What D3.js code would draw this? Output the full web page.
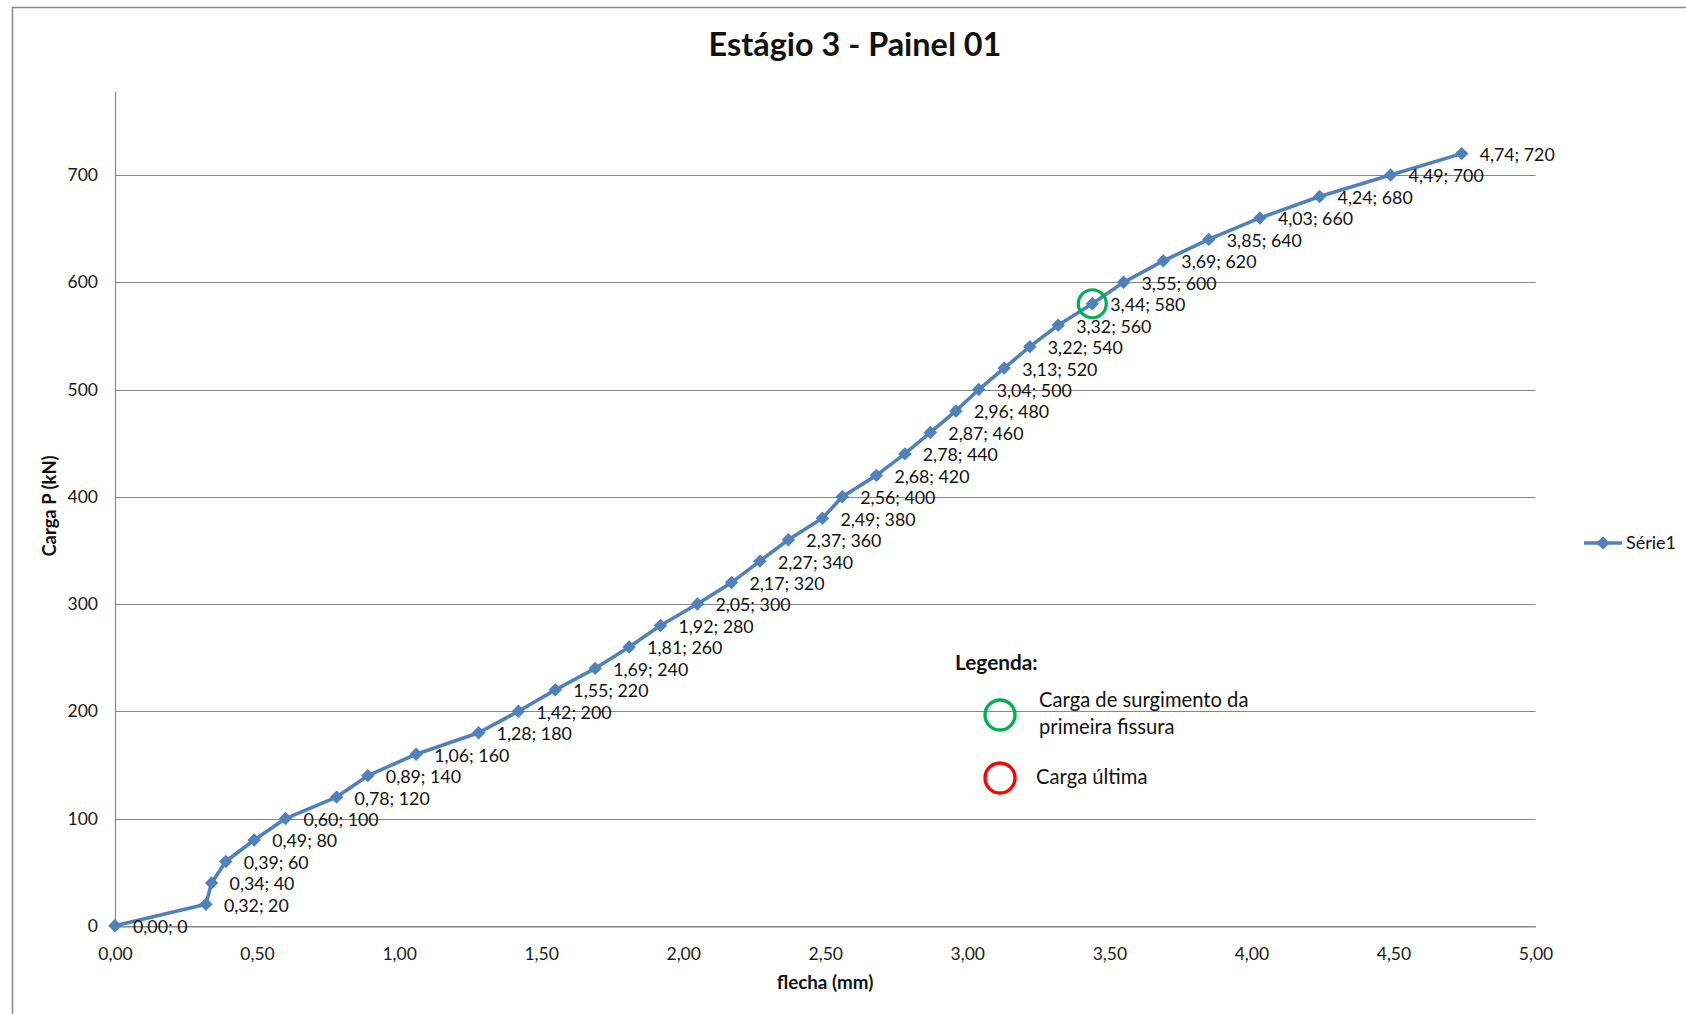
<!DOCTYPE html>
<html>
<head>
<meta charset="utf-8">
<script src="https://cdn.jsdelivr.net/npm/d3@7"></script>
<style>
  html, body { margin: 0; padding: 0; background: #fff; }
  svg { display: block; font-family: Lato, "Open Sans", sans-serif; }
</style>
</head>
<body>
<svg id="chart" width="1686" height="1014"></svg>
<script>
// Deflection (mm) vs. load (kN) readings for stage 3, panel 01
const flecha = [0.00, 0.32, 0.34, 0.39, 0.49, 0.60, 0.78, 0.89, 1.06, 1.28, 1.42, 1.55, 1.69, 1.81, 1.92, 2.05, 2.17, 2.27, 2.37, 2.49, 2.56, 2.68, 2.78, 2.87, 2.96, 3.04, 3.13, 3.22, 3.32, 3.44, 3.55, 3.69, 3.85, 4.03, 4.24, 4.49, 4.74];
const carga  = [0, 20, 40, 60, 80, 100, 120, 140, 160, 180, 200, 220, 240, 260, 280, 300, 320, 340, 360, 380, 400, 420, 440, 460, 480, 500, 520, 540, 560, 580, 600, 620, 640, 660, 680, 700, 720];
const xTicks = [0, 0.5, 1, 1.5, 2, 2.5, 3, 3.5, 4, 4.5, 5];
const yTicks = [0, 100, 200, 300, 400, 500, 600, 700];
const primeiraFissura = 580;   // load at which the first crack appeared
const seriesName = "Série1";

const locale = d3.formatLocale({ decimal: ",", thousands: ".", grouping: [3], currency: ["R$", ""] });
const f2 = locale.format(".2f");

const svg = d3.select("#chart");
const blue = "#4F81BD";
const grid = "#878787";

// chart frame
svg.append("rect")
  .attr("x", 12.5).attr("y", 7.5).attr("width", 1800).attr("height", 1100)
  .attr("fill", "none").attr("stroke", grid).attr("stroke-width", 1.5);

const x = d3.scaleLinear().domain([0, 5]).range([115, 1535.5]);
const y = d3.scaleLinear().domain([0, 778]).range([925.8, 91.4]);

// horizontal gridlines
svg.append("g").selectAll("line").data(yTicks).join("line")
  .attr("x1", x(0)).attr("x2", x(5))
  .attr("y1", d => Math.round(y(d)) + 0.5).attr("y2", d => Math.round(y(d)) + 0.5)
  .attr("stroke", grid).attr("stroke-width", 1.2);

// axes
const yAxis = d3.axisLeft(y).tickValues(yTicks).tickSize(0).tickPadding(17).tickFormat(d3.format("d"));
const gy = svg.append("g").attr("transform", `translate(${x(0)},0)`).call(yAxis);
gy.select(".domain").attr("d", `M0.5,${y(778)}V${y(0)}`).attr("stroke", grid).attr("stroke-width", 1.2);
gy.selectAll("text").attr("font-size", 17.5).attr("fill", "#1a1a1a").attr("font-family", "Lato");

const xAxis = d3.axisBottom(x).tickValues(xTicks).tickSize(0).tickPadding(21).tickFormat(f2);
const gx = svg.append("g").attr("transform", `translate(0,${Math.round(y(0)) + 0.5})`).call(xAxis);
gx.select(".domain").attr("stroke", grid).attr("stroke-width", 1.2);
gx.selectAll("text").attr("font-size", 17.5).attr("fill", "#1a1a1a").attr("font-family", "Lato");

// series line
const pts = flecha.map((v, i) => [v, carga[i]]);
svg.append("path").datum(pts)
  .attr("fill", "none").attr("stroke", blue).attr("stroke-width", 3.6).attr("stroke-linejoin", "round")
  .attr("d", d3.line().x(d => x(d[0])).y(d => y(d[1])));

// diamond markers
const diamond = d3.symbol().type(d3.symbolDiamond2).size(115);
svg.append("g").selectAll("path").data(pts).join("path")
  .attr("d", diamond)
  .attr("transform", d => `translate(${x(d[0])},${y(d[1])})`)
  .attr("fill", blue);

// data labels
svg.append("g").selectAll("text").data(pts).join("text")
  .attr("x", d => x(d[0]) + 18)
  .attr("y", d => y(d[1]) + 1)
  .attr("dy", "0.36em")
  .attr("font-size", 17.8)
  .attr("fill", "#111")
  .text(d => `${f2(d[0])}; ${d[1]}`);

// first-crack highlight
const idx = carga.indexOf(primeiraFissura);
svg.append("circle")
  .attr("cx", x(flecha[idx])).attr("cy", y(carga[idx])).attr("r", 14)
  .attr("fill", "none").attr("stroke", "#00B050").attr("stroke-width", 3.2);

// title
svg.append("text")
  .attr("x", 855).attr("y", 56).attr("text-anchor", "middle")
  .attr("font-size", 32.4).attr("font-weight", "bold").attr("fill", "#111")
  .text("Estágio 3 - Painel 01");

// axis titles
svg.append("text")
  .attr("x", 825).attr("y", 989).attr("text-anchor", "middle")
  .attr("font-size", 18.8).attr("font-weight", "bold").attr("fill", "#111")
  .text("flecha (mm)");
svg.append("text")
  .attr("transform", "translate(56,506) rotate(-90)").attr("text-anchor", "middle")
  .attr("font-size", 18.4).attr("font-weight", "bold").attr("fill", "#111")
  .text("Carga P (kN)");

// annotation legend
const leg = svg.append("g").attr("fill", "#111");
leg.append("text").attr("x", 955).attr("y", 670)
  .attr("font-size", 20.8).attr("font-weight", "bold").text("Legenda:");
leg.append("circle").attr("cx", 1000).attr("cy", 715).attr("r", 15)
  .attr("fill", "none").attr("stroke", "#00B050").attr("stroke-width", 3.4);
leg.append("text").attr("x", 1039).attr("y", 707).attr("font-size", 20.2).text("Carga de surgimento da");
leg.append("text").attr("x", 1039).attr("y", 734).attr("font-size", 20.2).text("primeira fissura");
leg.append("circle").attr("cx", 1000).attr("cy", 778).attr("r", 15)
  .attr("fill", "none").attr("stroke", "#FF0000").attr("stroke-width", 3.4);
leg.append("text").attr("x", 1036).attr("y", 784).attr("font-size", 20.2).text("Carga última");

// series legend
const sl = svg.append("g");
sl.append("line").attr("x1", 1584).attr("x2", 1622).attr("y1", 543).attr("y2", 543)
  .attr("stroke", blue).attr("stroke-width", 3.6);
sl.append("path").attr("d", diamond).attr("transform", "translate(1603,543)").attr("fill", blue);
sl.append("text").attr("x", 1626).attr("y", 543).attr("dy", "0.36em")
  .attr("font-size", 18).attr("fill", "#111").text(seriesName);
</script>
</body>
</html>
